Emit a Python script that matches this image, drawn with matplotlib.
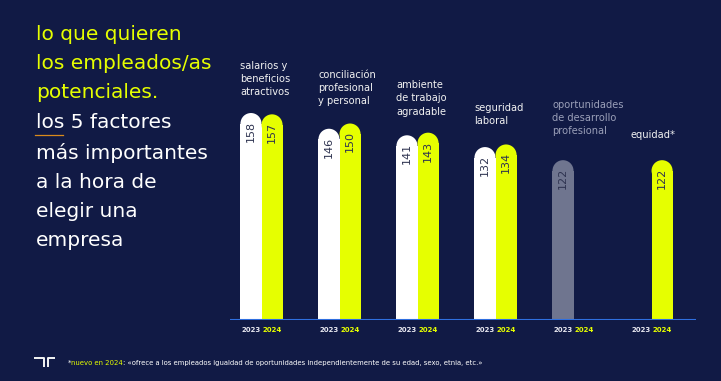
import numpy as np
import matplotlib
matplotlib.use("Agg")
import matplotlib.pyplot as plt
from matplotlib.patches import Ellipse
from matplotlib.lines import Line2D

# data
categories = ["salarios y\nbeneficios\natractivos",
              "conciliación\nprofesional\ny personal",
              "ambiente\nde trabajo\nagradable",
              "seguridad\nlaboral",
              "oportunidades\nde desarrollo\nprofesional",
              "equidad*"]
years = ["2023", "2024"]
values_2023 = [158, 146, 141, 132, 122, np.nan]
values_2024 = [157, 150, 143, 134, np.nan, 122]
dropped = [False, False, False, False, True, False]   # not in the 2024 top 5
label_top = [198, 191, 183, 166, 168, 145]             # where category labels start

BG = "#111a45"
YELLOW = "#e6ff00"
WHITE = "#ffffff"
GREY = "#6f758f"
BLUE = "#2f6fe0"
NUM = "#2e3350"

W, H = 721, 381
fig = plt.figure(figsize=(W / 100, H / 100), dpi=100, facecolor=BG)
plt.rcParams["font.family"] = ["DejaVu Sans"]

# chart axes: baseline at y=320px, x from 230 to 696px
ax = fig.add_axes([230 / W, (H - 320) / H, 466 / W, 262 / H])
ax.set_facecolor(BG)
ax.set_xlim(-0.404, 5.57)
ax.set_ylim(0, 200)
ax.axis("off")

w = 0.27
px_x = 466 / (5.57 + 0.404)
px_y = 262 / 200
ry = (w / 2) * px_x / px_y

x = np.arange(len(categories))


def rounded_bar(xc, v, color):
    ax.bar(xc, v - ry, width=w, bottom=0, color=color, linewidth=0)
    ax.add_patch(Ellipse((xc, v - ry), w, 2 * ry, color=color, linewidth=0))
    ax.text(xc, v - 6, f"{v:.0f}", rotation=90, ha="center", va="top",
            fontsize=8, color=NUM)


for i in x:
    c23 = GREY if dropped[i] else WHITE
    if not np.isnan(values_2023[i]):
        rounded_bar(i - w / 2, values_2023[i], c23)
    if not np.isnan(values_2024[i]):
        rounded_bar(i + w / 2, values_2024[i], YELLOW)
    ax.text(i - w / 2, -7.5, years[0], ha="center", va="center", fontsize=5,
            fontweight="bold", color="#e8e8f0")
    ax.text(i + w / 2, -7.5, years[1], ha="center", va="center", fontsize=5,
            fontweight="bold", color=YELLOW)
    ax.text(i - w, label_top[i], categories[i], ha="left", va="top",
            fontsize=7.1, linespacing=1.4, clip_on=False,
            color="#9a9fb8" if dropped[i] else "#f2f2f2")

ax.axhline(0, color=BLUE, linewidth=1.5, xmin=0, xmax=1)

# left headline
fig.text(36 / W, 1 - 24.5 / H, "lo que quieren\nlos empleados/as\npotenciales.",
         color=YELLOW, fontsize=14.5, ha="left", va="top", linespacing=1.67)
fig.text(36 / W, 1 - 113 / H,
         "los 5 factores\nmás importantes\na la hora de\nelegir una\nempresa",
         color=WHITE, fontsize=14.5, ha="left", va="top", linespacing=1.67)
fig.add_artist(Line2D([35 / W, 63 / W], [1 - 134.5 / H] * 2, color="#d98a1c",
                      linewidth=0.9))

# logo
lg = dict(color="#f4f4f4", linewidth=1.4, solid_capstyle="butt")
fig.add_artist(Line2D([34 / W, 43.5 / W, 43.5 / W], [1 - 358 / H, 1 - 358 / H, 1 - 367 / H], **lg))
fig.add_artist(Line2D([55 / W, 48 / W, 48 / W], [1 - 358 / H, 1 - 358 / H, 1 - 367 / H], **lg))

# footnote in three colours
parts = [("*", WHITE), ("nuevo en 2024", YELLOW),
         (": «ofrece a los empleados igualdad de oportunidades independientemente "
          "de su edad, sexo, etnia, etc.»", WHITE)]
fig.canvas.draw()
renderer = fig.canvas.get_renderer()
xpos = 68
for s, col in parts:
    t = fig.text(xpos / W, 1 - 363 / H, s, color=col, fontsize=4.95,
                 ha="left", va="center")
    xpos += t.get_window_extent(renderer).width

fig.savefig("out.png", dpi=100, facecolor=BG)
